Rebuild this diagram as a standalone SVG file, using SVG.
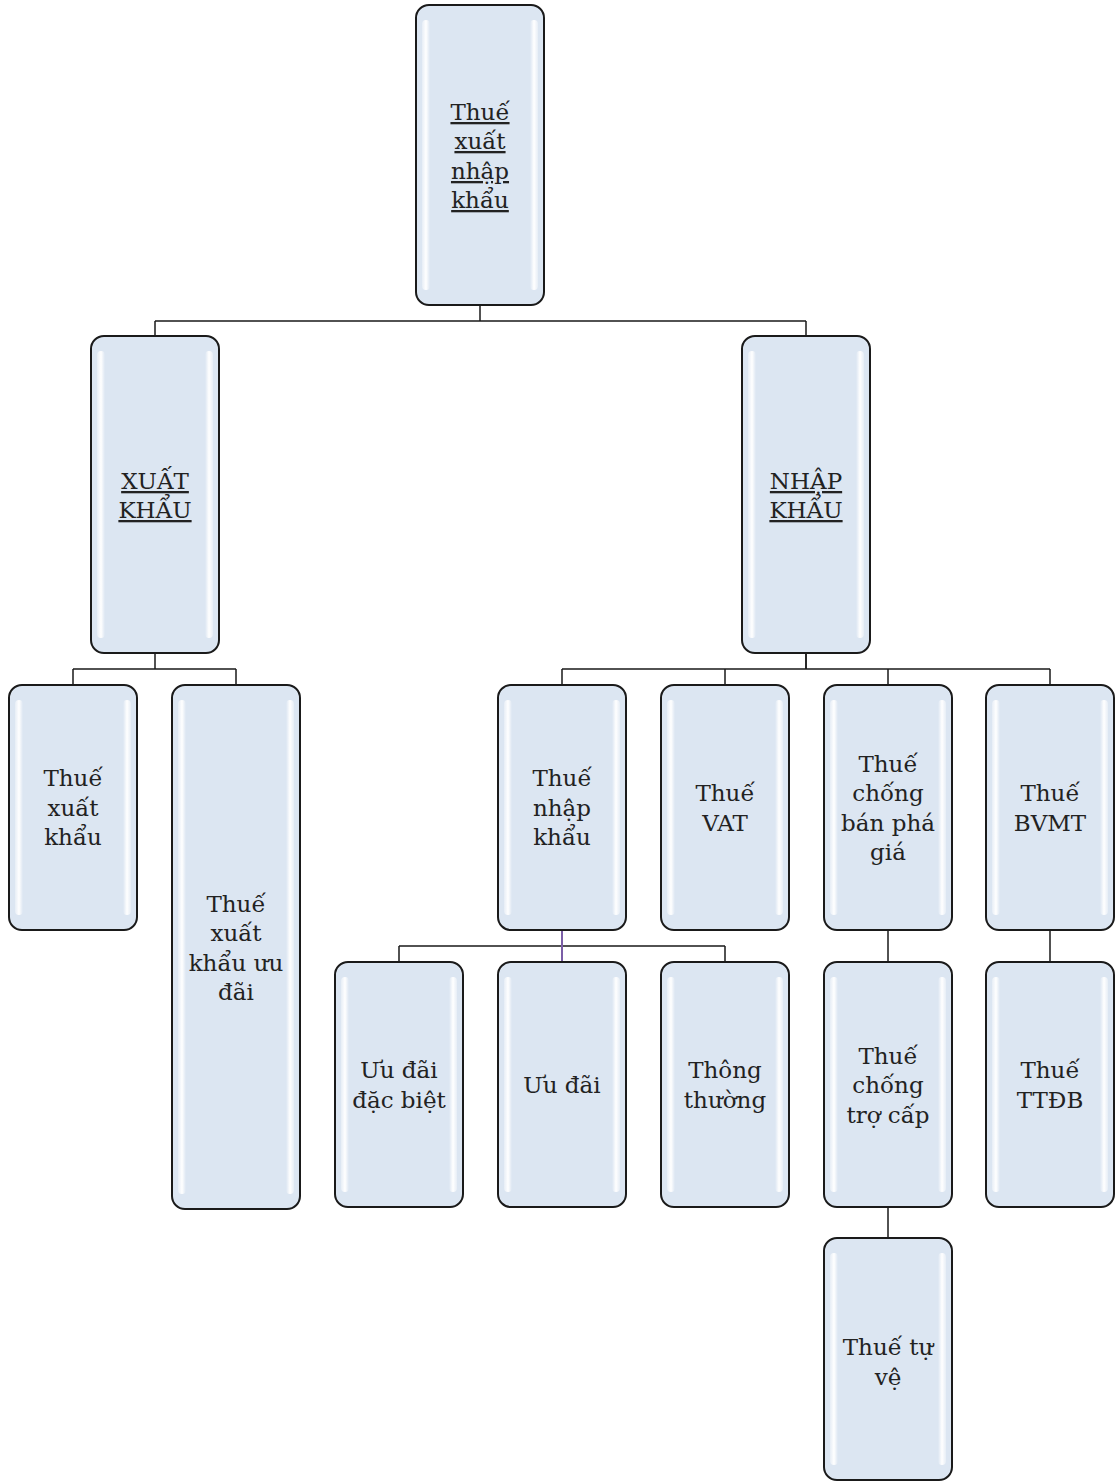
<svg xmlns="http://www.w3.org/2000/svg" width="1120" height="1482" viewBox="0 0 1120 1482">
<defs>
<linearGradient id="hlL" x1="0" y1="0" x2="1" y2="0">
<stop offset="0" stop-color="#ffffff" stop-opacity="0.3"/>
<stop offset="0.5" stop-color="#ffffff" stop-opacity="1"/>
<stop offset="1" stop-color="#ffffff" stop-opacity="0"/>
</linearGradient>
<linearGradient id="hlR" x1="1" y1="0" x2="0" y2="0">
<stop offset="0" stop-color="#ffffff" stop-opacity="0.3"/>
<stop offset="0.5" stop-color="#ffffff" stop-opacity="1"/>
<stop offset="1" stop-color="#ffffff" stop-opacity="0"/>
</linearGradient>
</defs>
<style>
.box{fill:#dce6f2;stroke:#1a1a1a;stroke-width:2}
.hl{fill:url(#hlL)}
.hr{fill:url(#hlR)}
.t{font-family:"DejaVu Serif","Liberation Serif",serif;font-size:23px;fill:#222222;text-anchor:middle}
.u{text-decoration:underline}
.c{fill:none;stroke:#1a1a1a;stroke-width:1.5}
</style>
<rect width="1120" height="1482" fill="#ffffff"/>
<g id="connectors">
<path class="c" d="M480,305 V321 M155,321 H806 M155,321 V336 M806,321 V336"/>
<path class="c" d="M155,653 V669 M73,669 H236 M73,669 V685 M236,669 V685"/>
<path class="c" d="M806,653 V669 M562,669 H1050 M562,669 V685 M725,669 V685 M888,669 V685 M1050,669 V685"/>
<path class="c" stroke-width="2.5" d="M806,653 V669"/>
<path class="c" d="M399,946 H725 M399,946 V962 M725,946 V962"/>
<path class="c" style="stroke:#7b5ea7;stroke-width:2" d="M562,930 V962"/>
<path class="c" d="M888,930 V962 M1050,930 V962 M888,1207 V1238"/>
</g>
<g id="n-root">
<rect class="box" x="416" y="5" width="128" height="300" rx="13"/>
<rect class="hl" x="422" y="20" width="8" height="270" rx="4"/>
<rect class="hr" x="530" y="20" width="8" height="270" rx="4"/>
<text class="t u" x="480"><tspan x="480" y="120">Thuế</tspan><tspan x="480" y="149">xuất</tspan><tspan x="480" y="179">nhập</tspan><tspan x="480" y="208">khẩu</tspan></text>
</g>
<g id="n-xuatkhau">
<rect class="box" x="91" y="336" width="128" height="317" rx="13"/>
<rect class="hl" x="97" y="351" width="8" height="287" rx="4"/>
<rect class="hr" x="205" y="351" width="8" height="287" rx="4"/>
<text class="t u"><tspan x="155" y="489">XUẤT</tspan><tspan x="155" y="518">KHẨU</tspan></text>
</g>
<g id="n-nhapkhau">
<rect class="box" x="742" y="336" width="128" height="317" rx="13"/>
<rect class="hl" x="748" y="351" width="8" height="287" rx="4"/>
<rect class="hr" x="856" y="351" width="8" height="287" rx="4"/>
<text class="t u"><tspan x="806" y="489">NHẬP</tspan><tspan x="806" y="518">KHẨU</tspan></text>
</g>
<g id="n-thuexk">
<rect class="box" x="9" y="685" width="128" height="245" rx="13"/>
<rect class="hl" x="15" y="700" width="8" height="215" rx="4"/>
<rect class="hr" x="123" y="700" width="8" height="215" rx="4"/>
<text class="t"><tspan x="73" y="786">Thuế</tspan><tspan x="73" y="816">xuất</tspan><tspan x="73" y="845">khẩu</tspan></text>
</g>
<g id="n-xkuudai">
<rect class="box" x="172" y="685" width="128" height="524" rx="13"/>
<rect class="hl" x="178" y="700" width="8" height="494" rx="4"/>
<rect class="hr" x="286" y="700" width="8" height="494" rx="4"/>
<text class="t"><tspan x="236" y="912">Thuế</tspan><tspan x="236" y="941">xuất</tspan><tspan x="236" y="971">khẩu ưu</tspan><tspan x="236" y="1000">đãi</tspan></text>
</g>
<g id="n-thuenk">
<rect class="box" x="498" y="685" width="128" height="245" rx="13"/>
<rect class="hl" x="504" y="700" width="8" height="215" rx="4"/>
<rect class="hr" x="612" y="700" width="8" height="215" rx="4"/>
<text class="t"><tspan x="562" y="786">Thuế</tspan><tspan x="562" y="816">nhập</tspan><tspan x="562" y="845">khẩu</tspan></text>
</g>
<g id="n-vat">
<rect class="box" x="661" y="685" width="128" height="245" rx="13"/>
<rect class="hl" x="667" y="700" width="8" height="215" rx="4"/>
<rect class="hr" x="775" y="700" width="8" height="215" rx="4"/>
<text class="t"><tspan x="725" y="801">Thuế</tspan><tspan x="725" y="831">VAT</tspan></text>
</g>
<g id="n-banphagia">
<rect class="box" x="824" y="685" width="128" height="245" rx="13"/>
<rect class="hl" x="830" y="700" width="8" height="215" rx="4"/>
<rect class="hr" x="938" y="700" width="8" height="215" rx="4"/>
<text class="t"><tspan x="888" y="772">Thuế</tspan><tspan x="888" y="801">chống</tspan><tspan x="888" y="831">bán phá</tspan><tspan x="888" y="860">giá</tspan></text>
</g>
<g id="n-bvmt">
<rect class="box" x="986" y="685" width="128" height="245" rx="13"/>
<rect class="hl" x="992" y="700" width="8" height="215" rx="4"/>
<rect class="hr" x="1100" y="700" width="8" height="215" rx="4"/>
<text class="t"><tspan x="1050" y="801">Thuế</tspan><tspan x="1050" y="831">BVMT</tspan></text>
</g>
<g id="n-uudaidb">
<rect class="box" x="335" y="962" width="128" height="245" rx="13"/>
<rect class="hl" x="341" y="977" width="8" height="215" rx="4"/>
<rect class="hr" x="449" y="977" width="8" height="215" rx="4"/>
<text class="t"><tspan x="399" y="1078">Ưu đãi</tspan><tspan x="399" y="1108">đặc biệt</tspan></text>
</g>
<g id="n-uudai">
<rect class="box" x="498" y="962" width="128" height="245" rx="13"/>
<rect class="hl" x="504" y="977" width="8" height="215" rx="4"/>
<rect class="hr" x="612" y="977" width="8" height="215" rx="4"/>
<text class="t"><tspan x="562" y="1093">Ưu đãi</tspan></text>
</g>
<g id="n-thongthuong">
<rect class="box" x="661" y="962" width="128" height="245" rx="13"/>
<rect class="hl" x="667" y="977" width="8" height="215" rx="4"/>
<rect class="hr" x="775" y="977" width="8" height="215" rx="4"/>
<text class="t"><tspan x="725" y="1078">Thông</tspan><tspan x="725" y="1108">thường</tspan></text>
</g>
<g id="n-trocap">
<rect class="box" x="824" y="962" width="128" height="245" rx="13"/>
<rect class="hl" x="830" y="977" width="8" height="215" rx="4"/>
<rect class="hr" x="938" y="977" width="8" height="215" rx="4"/>
<text class="t"><tspan x="888" y="1064">Thuế</tspan><tspan x="888" y="1093">chống</tspan><tspan x="888" y="1123">trợ cấp</tspan></text>
</g>
<g id="n-ttdb">
<rect class="box" x="986" y="962" width="128" height="245" rx="13"/>
<rect class="hl" x="992" y="977" width="8" height="215" rx="4"/>
<rect class="hr" x="1100" y="977" width="8" height="215" rx="4"/>
<text class="t"><tspan x="1050" y="1078">Thuế</tspan><tspan x="1050" y="1108">TTĐB</tspan></text>
</g>
<g id="n-tuve">
<rect class="box" x="824" y="1238" width="128" height="242" rx="13"/>
<rect class="hl" x="830" y="1253" width="8" height="212" rx="4"/>
<rect class="hr" x="938" y="1253" width="8" height="212" rx="4"/>
<text class="t"><tspan x="888" y="1355">Thuế tự</tspan><tspan x="888" y="1385">vệ</tspan></text>
</g>
</svg>
